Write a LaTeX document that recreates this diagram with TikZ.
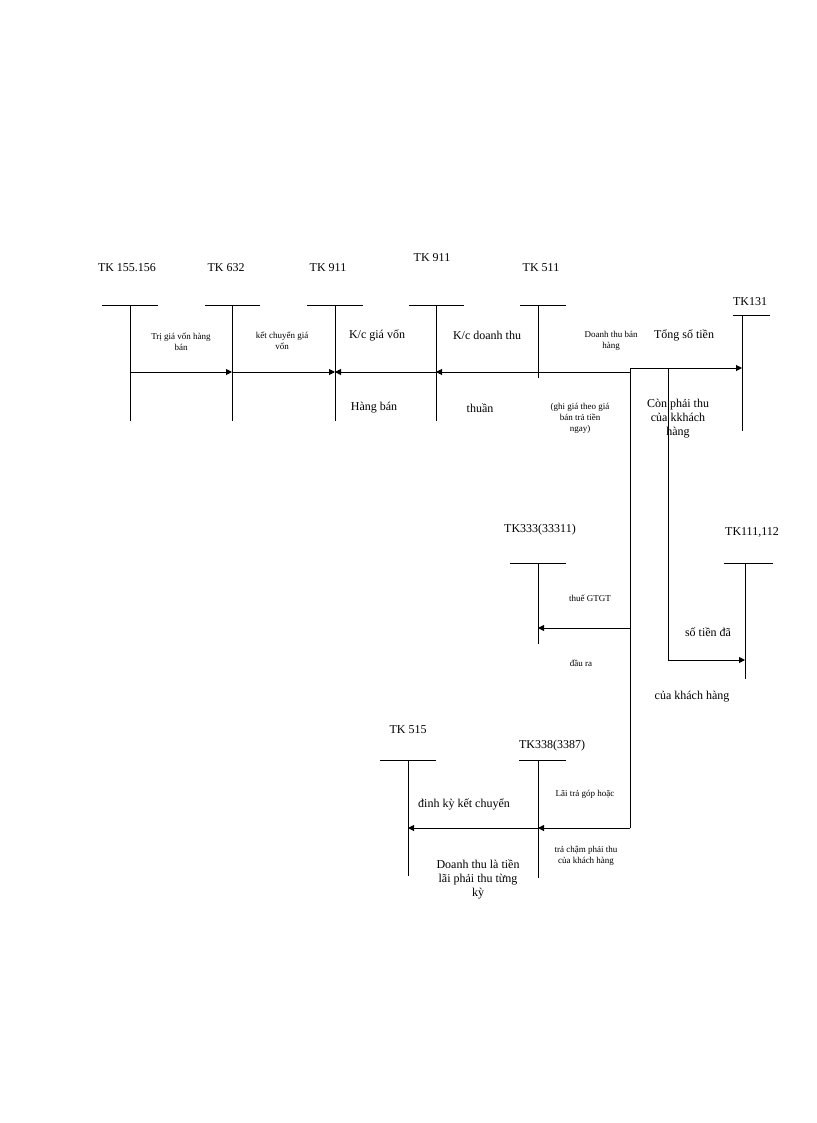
\documentclass[tikz,border=0pt]{standalone}
\usepackage{fontspec}
\setmainfont{Liberation Serif}
\usetikzlibrary{arrows.meta}
\begin{document}
\begin{tikzpicture}[x=1pt,y=-1pt,
  ln/.style={line width=0.7pt},
  ar/.style={line width=1pt,-{Triangle[length=6pt,width=6pt]}},
  acc/.style={font=\fontsize{12}{13}\selectfont},
  lb/.style={font=\fontsize{12}{14}\selectfont,align=center},
  sm/.style={font=\fontsize{9}{11}\selectfont,align=center}]
\useasboundingbox (0,0) rectangle (816,1123);
% accounts
\foreach \n/\x/\y/\b/\l/\txt/\tx/\ty in {
 a/130/305/421/28/{TK 155.156}/127/268,
 b/232/305/421/27/{TK 632}/226/268,
 c/335/305/421/28/{TK 911}/328/268,
 d/436/305/421/27/{TK 911}/432/258,
 e/538/305/378/18/{TK 511}/541/268,
 g/538/563/644/28/{TK333(33311)}/540/530,
 h/745/563/679/21/{TK111,112}/752/532,
 i/408/760/876/28/{TK 515}/408/730,
 j/538/760/878/19/{TK338(3387)}/552/746}{
 \coordinate (\n t) at (\x,\y);
 \draw[ln] (\x-\l,\y) -- (\x+28,\y);
 \draw[ln] (\n t) -- (\x,\b);
 \node[acc] (\n lab) at (\tx,\ty) {\txt};
}
\coordinate (ft) at (742,315);
\draw[ln] (733,315) -- (770,315);
\draw[ln] (ft) -- (742,431);
\node[acc] (flab) at (750,302) {TK131};
% connectors
\coordinate (a1) at (130,372); \coordinate (b1) at (232,372);
\coordinate (c1) at (335,372); \coordinate (d1) at (436,372);
\coordinate (s) at (630,372); \coordinate (s2) at (630,368);
\coordinate (f1) at (742,368);
\draw[ar] (a1) -- (b1);
\draw[ar] (b1) -- (c1);
\draw[ar] (d1) -- (c1);
\draw[ar] (s) -- (d1);
\draw[ar] (s2) -- (f1);
\coordinate (s3) at (630,828);
\draw[ln] (s2) -- (s3);
\coordinate (g1) at (538,628); \coordinate (s4) at (630,628);
\draw[ar] (s4) -- (g1);
\coordinate (j1) at (538,828); \coordinate (i1) at (408,828);
\draw[ar] (s3) -- (j1);
\draw[ar] (j1) -- (i1);
\coordinate (k0) at (668,368); \coordinate (k1) at (668,660); \coordinate (h1) at (745,660);
\draw[ln] (k0) -- (k1);
\draw[ar] (k1) -- (h1);
% labels
\node[sm] (t1) at (181,342) {Trị giá vốn hàng\\bán};
\node[sm] (t2) at (282,341) {kết chuyển giá\\vốn};
\node[lb] (t3) at (377,335) {K/c giá vốn};
\node[lb] (t4) at (374,408) {Hàng bán};
\node[lb] (t5) at (487,335) {K/c doanh thu};
\node[lb] (t6) at (480,408) {thuần};
\node[sm] (t7) at (611,341) {Doanh thu bán\\hàng};
\node[sm] (t8) at (580,418) {(ghi giá theo giá\\bán trả tiền\\ngay)};
\node[lb] (t9) at (684,335) {Tổng số tiền};
\node[lb] (t10) at (678,419) {Còn phải thu\\của kkhách\\hàng};
\node[sm] (t11) at (590,598) {thuế GTGT};
\node[sm] (t12) at (581,663) {đầu ra};
\node[lb] (t13) at (708,632) {số tiền đã};
\node[lb] (t14) at (692,697) {của khách hàng};
\node[lb] (t15) at (464,804) {đinh kỳ kết chuyển};
\node[lb] (t16) at (478,879) {Doanh thu là tiền\\lãi phải thu từng\\kỳ};
\node[sm] (t17) at (585,794) {Lãi trả góp hoặc};
\node[sm] (t18) at (586,856) {trả chậm phải thu\\của khách hàng};
\end{tikzpicture}
\end{document}
